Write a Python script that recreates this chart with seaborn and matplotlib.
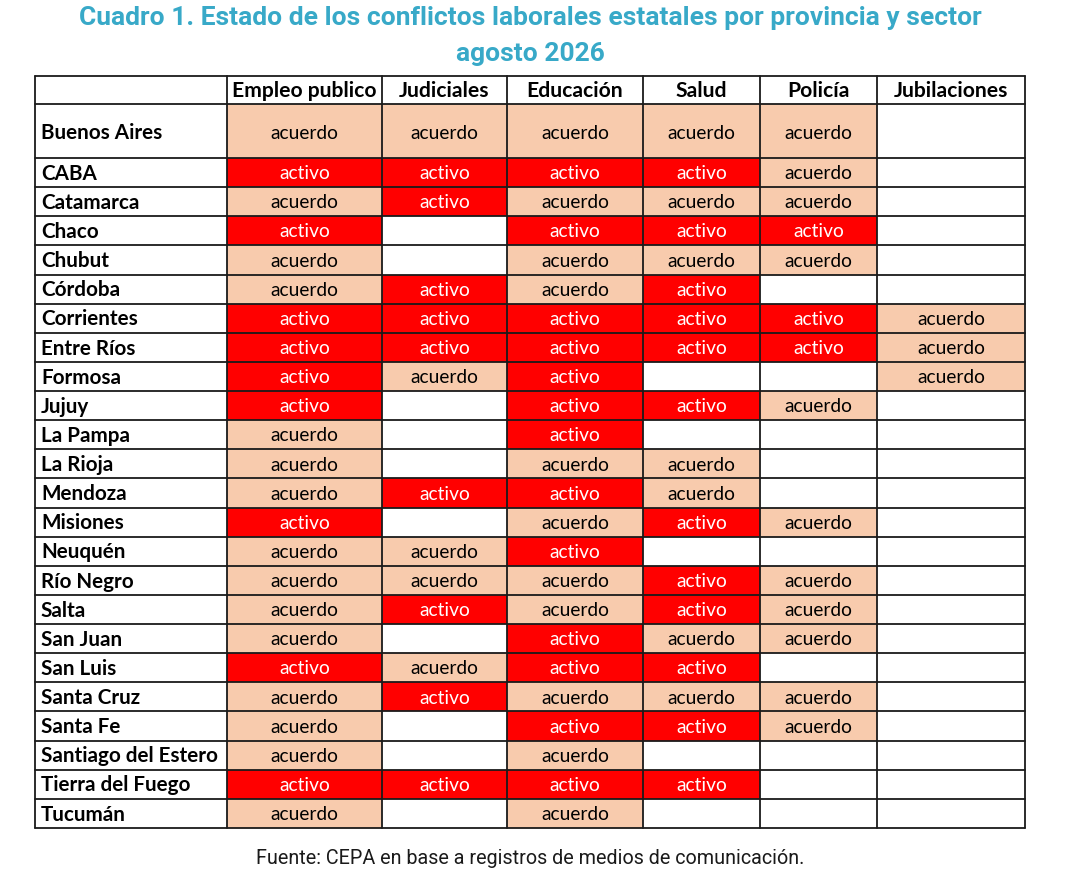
import numpy as np
import pandas as pd
import matplotlib
matplotlib.use("Agg")
import matplotlib.pyplot as plt
import seaborn as sns
from matplotlib.colors import ListedColormap
from matplotlib.scale import FuncScale

provincias = [
    "Buenos Aires", "CABA", "Catamarca", "Chaco", "Chubut", "Córdoba",
    "Corrientes", "Entre Ríos", "Formosa", "Jujuy", "La Pampa", "La Rioja",
    "Mendoza", "Misiones", "Neuquén", "Río Negro", "Salta", "San Juan",
    "San Luis", "Santa Cruz", "Santa Fe", "Santiago del Estero",
    "Tierra del Fuego", "Tucumán",
]
sectores = ["Empleo publico", "Judiciales", "Educación", "Salud", "Policía", "Jubilaciones"]

A, X, N = "acuerdo", "activo", ""
empleo_publico = [A, X, A, X, A, A, X, X, X, X, A, A, A, X, A, A, A, A, X, A, A, A, X, A]
judiciales = [A, X, X, N, N, X, X, X, A, N, N, N, X, N, A, A, X, N, A, X, N, N, X, N]
educacion = [A, X, A, X, A, A, X, X, X, X, X, A, X, A, X, A, A, X, X, A, X, A, X, A]
salud = [A, X, A, X, A, X, X, X, N, X, N, A, A, X, N, X, X, A, X, A, X, N, X, N]
policia = [A, A, A, X, A, N, X, X, N, A, N, N, N, A, N, A, A, A, N, A, A, N, N, N]
jubilaciones = [N, N, N, N, N, N, A, A, A, N, N, N, N, N, N, N, N, N, N, N, N, N, N, N]

titulo = "Cuadro 1. Estado de los conflictos laborales estatales por provincia y sector\nagosto 2026"
fuente = "Fuente: CEPA en base a registros de medios de comunicación."

status = pd.DataFrame(
    dict(zip(sectores, [empleo_publico, judiciales, educacion, salud, policia, jubilaciones])),
    index=provincias,
)
codes = status.apply(lambda c: c.map({N: 0, A: 1, X: 2}))

# table geometry in pixels (label column / header row sit at index -1)
W, H = 1092, 890
col_px = [35, 227, 382, 507, 643, 760, 877, 1025]
row_px = [76, 104, 158] + list(np.linspace(158, 828, 24)[1:])


def make_scale(edges):
    idx = np.arange(-1, len(edges) - 1, dtype=float)
    px = np.asarray(edges, dtype=float)
    idx = np.concatenate([[idx[0] - 1000], idx, [idx[-1] + 1000]])
    px = np.concatenate([[px[0] - 1000], px, [px[-1] + 1000]])
    fwd = lambda v: np.interp(v, idx, px)
    inv = lambda v: np.interp(v, px, idx)
    return fwd, inv


sns.set_theme(style="white")
plt.rcParams["font.family"] = ["Lato", "DejaVu Sans"]

fig = plt.figure(figsize=(W / 100, H / 100), dpi=100)
ax = fig.add_axes([
    col_px[0] / W, 1 - row_px[-1] / H,
    (col_px[-1] - col_px[0]) / W, (row_px[-1] - row_px[0]) / H,
])

cmap = ListedColormap(["white", "#F8CBAD", "#FF0000"])
sns.heatmap(
    codes, ax=ax, cmap=cmap, vmin=-0.5, vmax=2.5, cbar=False,
    annot=status.values, fmt="", xticklabels=False, yticklabels=False,
    annot_kws={"fontsize": 13.8, "family": "Lato"},
)
for t in ax.texts:
    t.set_color("white" if t.get_text() == X else "black")
    t.set_y(t.get_position()[1] + 0.04)

ax.set_xscale(FuncScale(ax, make_scale(col_px)))
ax.set_yscale(FuncScale(ax, make_scale(row_px)))
ax.set_xlim(-1, len(sectores))
ax.set_ylim(len(provincias), -1)
ax.set_xticks([])
ax.set_yticks([])
for s in ax.spines.values():
    s.set_visible(False)

for j, sec in enumerate(sectores):
    ax.text(j + 0.5, -0.47, sec, ha="center", va="center",
            fontsize=15.2, fontweight="bold", color="black")
for i, prov in enumerate(provincias):
    ax.annotate(prov, (-1, i + 0.54), xytext=(4.3, 0), textcoords="offset points",
                ha="left", va="center", fontsize=14.9, fontweight="bold", color="black")

for y in range(-1, len(provincias) + 1):
    ax.axhline(y, color="#1a1a1a", lw=1.3, clip_on=False)
for x in range(-1, len(sectores) + 1):
    ax.axvline(x, color="#1a1a1a", lw=1.3, clip_on=False)

cx = (col_px[0] + col_px[-1]) / 2 / W
fig.text(cx, 1 - 36 / H, titulo, ha="center", va="center", fontsize=19,
         fontweight="bold", color="#38A9C8", family="Roboto", linespacing=1.6)
fig.text(cx, 1 - 858 / H, fuente, ha="center", va="center", fontsize=14.2,
         color="#1a1a1a", family="Roboto")

fig.savefig("out.png", dpi=100, facecolor="white")
